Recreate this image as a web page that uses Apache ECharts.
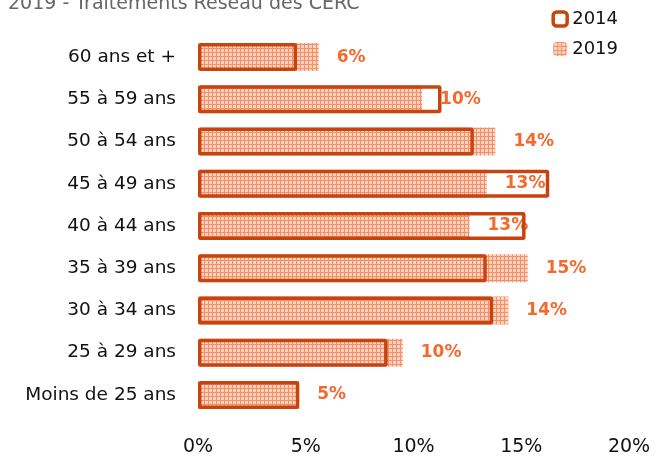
<!DOCTYPE html>
<html>
<head>
<meta charset="utf-8">
<script src="https://cdn.jsdelivr.net/npm/echarts@6/dist/echarts.min.js"></script>
<style>
  html, body { margin: 0; padding: 0; background: #fff; }
  #chart { width: 668px; height: 457px; }
</style>
</head>
<body>
<div id="chart"></div>
<script>
// Age groups, top to bottom
const categories = ['60 ans et +', '55 à 59 ans', '50 à 54 ans', '45 à 49 ans', '40 à 44 ans',
                    '35 à 39 ans', '30 à 34 ans', '25 à 29 ans', 'Moins de 25 ans'];
// Share of staff per age group (%)
const values2014 = [4.6, 11.3, 12.8, 16.3, 15.2, 13.4, 13.7, 8.8, 4.7];
const values2019 = [5.6, 10.4, 13.8, 13.4, 12.6, 15.3, 14.4, 9.5, 4.7];
const xTicks = [0, 5, 10, 15, 20];
const seriesNames = ['2014', '2019'];
const titleText = '2019 - Traitements Réseau des CERC';

// Small grid tile used as the 2019 fill
function gridPattern() {
  const c = document.createElement('canvas');
  c.width = 4; c.height = 4;
  const g = c.getContext('2d');
  g.fillStyle = '#FCD3C0';
  g.fillRect(0, 0, 4, 4);
  g.fillStyle = '#F39068';
  g.fillRect(0, 0, 4, 1);
  g.fillRect(0, 0, 1, 4);
  return c;
}

const fill2019 = { image: gridPattern(), repeat: 'repeat' };
const font = '"DejaVu Sans", "Liberation Sans", Arial, sans-serif';
const border2014 = '#C8440E';

const chart = echarts.init(document.getElementById('chart'), null, { renderer: 'canvas' });
chart.setOption({
  animation: false,
  backgroundColor: '#fff',
  graphic: [{
    type: 'text',
    left: 8,
    top: -5,
    style: { text: titleText, font: '19px ' + font, fill: '#666' }
  }],
  legend: {
    orient: 'vertical',
    right: 45,
    top: 5,
    itemWidth: 14,
    itemHeight: 14,
    itemGap: 12,
    textStyle: { fontFamily: font, fontSize: 18, color: '#111' },
    data: [
      { name: seriesNames[0], itemStyle: { borderWidth: 3.5, borderColor: border2014 } },
      { name: seriesNames[1] }
    ]
  },
  grid: { left: 198, right: 39, top: 36, bottom: 40, containLabel: false },
  xAxis: {
    type: 'value',
    min: xTicks[0],
    max: xTicks[xTicks.length - 1],
    interval: 5,
    axisLine: { show: false },
    axisTick: { show: false },
    splitLine: { show: false },
    axisLabel: {
      margin: 22,
      fontFamily: font,
      fontSize: 19,
      color: '#111',
      formatter: v => v + '%'
    }
  },
  yAxis: {
    type: 'category',
    data: categories,
    inverse: true,
    axisLine: { show: false },
    axisTick: { show: false },
    axisLabel: { margin: 22, fontFamily: font, fontSize: 18.5, color: '#111' }
  },
  series: [
    {
      name: seriesNames[1],
      type: 'bar',
      data: values2019,
      barWidth: 28,
      barGap: '-100%',
      z: 2,
      itemStyle: { color: fill2019 },
      label: {
        show: true,
        position: 'right',
        distance: 18,
        fontFamily: font,
        fontSize: 17,
        fontWeight: 'bold',
        color: '#F26A2E',
        formatter: p => Math.round(p.value) + '%'
      }
    },
    {
      name: seriesNames[0],
      type: 'bar',
      data: values2014,
      barWidth: 28,
      barGap: '-100%',
      z: 3,
      itemStyle: { color: 'rgba(255,255,255,0)', borderColor: border2014, borderWidth: 3.5, borderRadius: 1 }
    }
  ]
});
</script>
</body>
</html>
